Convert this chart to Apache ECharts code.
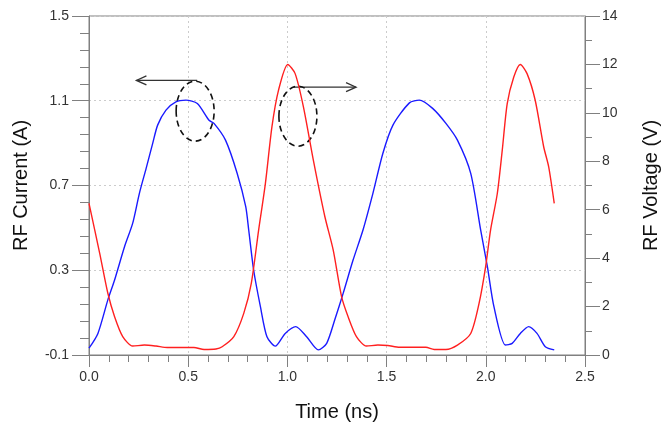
<!DOCTYPE html>
<html>
<head>
<meta charset="utf-8">
<script src="https://cdn.jsdelivr.net/npm/echarts@6/dist/echarts.min.js"></script>
<style>
  html, body { margin: 0; padding: 0; background: #fff; }
  #main { width: 669px; height: 429px; }
</style>
</head>
<body>
<div id="main"></div>
<script>
// RF current (left axis, A)
var currentTime = [0, 0.045, 0.095, 0.129, 0.179, 0.22, 0.254, 0.288, 0.321, 0.346, 0.388, 0.438, 0.488, 0.546, 0.605, 0.63, 0.688, 0.747, 0.79, 0.805, 0.83, 0.864, 0.897, 0.939, 0.989, 1.042, 1.097, 1.156, 1.198, 1.24, 1.281, 1.331, 1.381, 1.431, 1.481, 1.532, 1.615, 1.665, 1.732, 1.799, 1.857, 1.924, 1.974, 2.008, 2.041, 2.099, 2.133, 2.174, 2.216, 2.258, 2.3, 2.345];
var currentValues = [-0.068, 0.002, 0.16, 0.254, 0.411, 0.521, 0.663, 0.781, 0.899, 0.985, 1.056, 1.095, 1.103, 1.087, 1.008, 0.993, 0.914, 0.757, 0.6, 0.49, 0.30, 0.128, -0.014, -0.058, 0.002, 0.034, -0.014, -0.076, -0.045, 0.07, 0.191, 0.348, 0.49, 0.663, 0.851, 0.985, 1.09, 1.103, 1.064, 0.993, 0.914, 0.757, 0.49, 0.317, 0.128, -0.053, -0.045, 0.002, 0.034, 0.002, -0.061, -0.076];

// RF voltage (right axis, V)
var voltageTime = [0, 0.054, 0.095, 0.129, 0.17, 0.22, 0.279, 0.338, 0.395, 0.529, 0.58, 0.64, 0.671, 0.73, 0.78, 0.818, 0.855, 0.889, 0.922, 0.955, 1.002, 1.039, 1.081, 1.131, 1.189, 1.231, 1.273, 1.306, 1.348, 1.398, 1.456, 1.506, 1.565, 1.698, 1.74, 1.799, 1.857, 1.924, 1.966, 1.999, 2.024, 2.058, 2.083, 2.108, 2.141, 2.174, 2.208, 2.249, 2.292, 2.317, 2.345];
var voltageValues = [6.26, 4.2, 2.55, 1.58, 0.76, 0.37, 0.41, 0.37, 0.31, 0.31, 0.23, 0.25, 0.34, 0.76, 1.72, 2.96, 5.16, 7.08, 9.42, 10.93, 12.0, 11.62, 10.24, 8.04, 5.71, 4.33, 2.41, 1.58, 0.76, 0.37, 0.41, 0.39, 0.32, 0.32, 0.23, 0.23, 0.41, 0.89, 2.13, 3.64, 5.16, 6.67, 8.46, 10.38, 11.48, 12.0, 11.62, 10.52, 8.59, 7.77, 6.26];

// annotations, in (time, current) data units
var leftArrow = [[0.545, 1.196], [0.239, 1.196]];
var rightArrow = [[1.031, 1.164], [1.346, 1.164]];
var ellipseCenters = [[0.535, 1.051], [1.053, 1.027]];

function pairs(xs, ys) {
    var out = [];
    for (var i = 0; i < xs.length; i++) {
        out.push([xs[i], ys[i]]);
    }
    return out;
}

var font = 'Liberation Sans, Arial, sans-serif';
var axisColor = '#808080';
var textColor = '#333';

var myChart = echarts.init(document.getElementById('main'));
var option = {
    animation: false,
    grid: {
        left: 89,
        right: 81,
        top: 16,
        bottom: 74,
        show: true,
        borderColor: axisColor,
        borderWidth: 1
    },
    xAxis: {
        type: 'value',
        min: 0,
        max: 2.5,
        interval: 0.5,
        name: 'Time (ns)',
        nameLocation: 'middle',
        nameGap: 47,
        nameTextStyle: { fontSize: 20, color: '#111', fontFamily: font },
        axisLine: { onZero: false, lineStyle: { color: axisColor } },
        axisTick: { length: 12, lineStyle: { color: axisColor } },
        minorTick: { show: true, splitNumber: 5, length: 7, lineStyle: { color: axisColor } },
        axisLabel: {
            fontSize: 14, color: textColor, fontFamily: font, margin: 15,
            formatter: function (v) { return v.toFixed(1); }
        },
        splitLine: { show: true, lineStyle: { color: '#ccc', type: [2, 3] } }
    },
    yAxis: [
        {
            type: 'value',
            min: -0.1,
            max: 1.5,
            interval: 0.4,
            name: 'RF Current (A)',
            nameLocation: 'middle',
            nameRotate: 90,
            nameGap: 58,
            nameTextStyle: { fontSize: 20, color: '#111', fontFamily: font },
            axisLine: { show: true, onZero: false, lineStyle: { color: axisColor } },
            axisTick: { show: true, length: 17, lineStyle: { color: axisColor } },
            minorTick: { show: true, splitNumber: 5, length: 9, lineStyle: { color: axisColor } },
            axisLabel: {
                fontSize: 14, color: textColor, fontFamily: font, margin: 20,
                formatter: function (v) { return v.toFixed(1); }
            },
            splitLine: { show: true, lineStyle: { color: '#ccc', type: [2, 3] } }
        },
        {
            type: 'value',
            position: 'right',
            min: 0,
            max: 14,
            interval: 2,
            name: 'RF Voltage (V)',
            nameLocation: 'middle',
            nameRotate: 90,
            nameGap: 56,
            nameTextStyle: { fontSize: 20, color: '#111', fontFamily: font },
            axisLine: { show: true, onZero: false, lineStyle: { color: axisColor } },
            axisTick: { show: true, length: 15, lineStyle: { color: axisColor } },
            minorTick: { show: true, splitNumber: 2, length: 7, lineStyle: { color: axisColor } },
            axisLabel: { fontSize: 14, color: textColor, fontFamily: font, margin: 17 },
            splitLine: { show: false }
        }
    ],
    series: [
        {
            name: 'RF Current',
            type: 'line',
            yAxisIndex: 0,
            data: pairs(currentTime, currentValues),
            showSymbol: false,
            smooth: 0.25,
            lineStyle: { color: '#1a1aff', width: 1.4 }
        },
        {
            name: 'RF Voltage',
            type: 'line',
            yAxisIndex: 1,
            data: pairs(voltageTime, voltageValues),
            showSymbol: false,
            smooth: 0.25,
            lineStyle: { color: '#ff2020', width: 1.4 }
        }
    ]
};
myChart.setOption(option);

function px(p) {
    return myChart.convertToPixel({ xAxisIndex: 0, yAxisIndex: 0 }, p);
}

function arrowShapes(a) {
    var s = px(a[0]);
    var e = px(a[1]);
    var dir = e[0] < s[0] ? 1 : -1;
    var st = { stroke: '#333', lineWidth: 1.3, fill: null };
    return [
        { type: 'line', shape: { x1: s[0], y1: s[1], x2: e[0], y2: e[1] }, style: st },
        { type: 'polyline', shape: { points: [[e[0] + dir * 10, e[1] - 4.5], [e[0], e[1]], [e[0] + dir * 10, e[1] + 4.5]] }, style: st }
    ];
}

var graphics = [];
graphics = graphics.concat(arrowShapes(leftArrow));
graphics = graphics.concat(arrowShapes(rightArrow));
ellipseCenters.forEach(function (c) {
    var p = px(c);
    graphics.push({
        type: 'ellipse',
        shape: { cx: p[0], cy: p[1], rx: 19, ry: 30 },
        style: { fill: null, stroke: '#111', lineWidth: 1.6, lineDash: [6, 4] }
    });
});
myChart.setOption({ graphic: graphics });
</script>
</body>
</html>
